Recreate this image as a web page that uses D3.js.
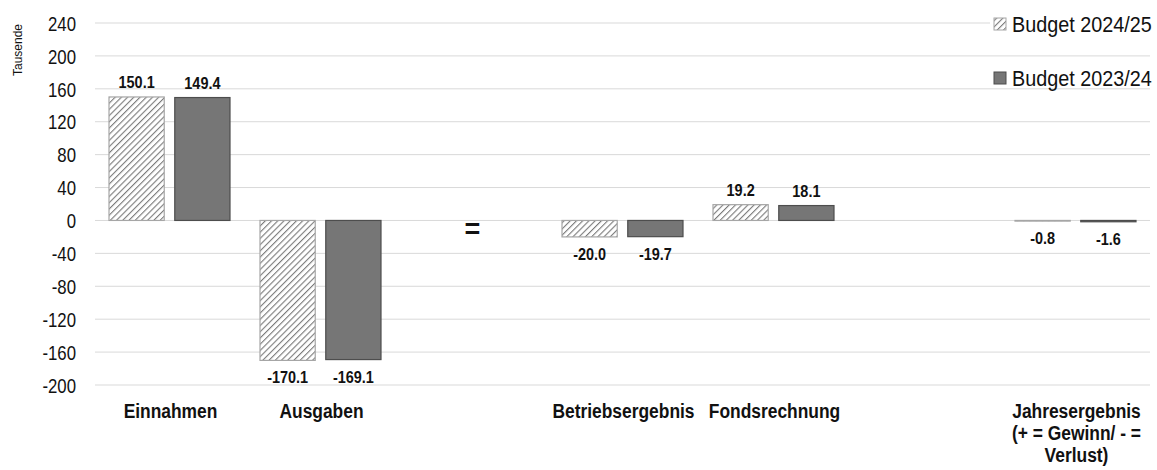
<!DOCTYPE html>
<html>
<head>
<meta charset="utf-8">
<script src="https://cdn.jsdelivr.net/npm/d3@7"></script>
<style>
  body { margin: 0; background: #fff; }
  text { font-family: "Liberation Sans", Arial, sans-serif; fill: #111; }
</style>
</head>
<body>
<div id="chart"></div>
<script>
const width = 1157;
const height = 470;

const categories = ["Einnahmen", "Ausgaben", "=", "Betriebsergebnis", "Fondsrechnung", "", "Jahresergebnis"];
const seriesNames = ["Budget 2024/25", "Budget 2023/24"];
const budget2425 = [150.1, -170.1, null, -20.0, 19.2, null, -0.8];
const budget2324 = [149.4, -169.1, null, -19.7, 18.1, null, -1.6];
const yTicks = [240, 200, 160, 120, 80, 40, 0, -40, -80, -120, -160, -200];
const xLabelLines = {
  "Jahresergebnis": ["Jahresergebnis", "(+ = Gewinn/ - =", "Verlust)"]
};

// narrow look: Liberation Sans squeezed horizontally
const narrow = 0.84;

const svg = d3.select("#chart")
  .append("svg")
  .attr("width", width)
  .attr("height", height);

const defs = svg.append("defs");
defs.append("pattern")
  .attr("id", "hatch")
  .attr("patternUnits", "userSpaceOnUse")
  .attr("width", 4.4)
  .attr("height", 4.4)
  .attr("patternTransform", "rotate(45)")
  .call(p => {
    p.append("rect").attr("width", 4.4).attr("height", 4.4).attr("fill", "#fff");
    p.append("line").attr("x1", 0).attr("y1", 0).attr("x2", 0).attr("y2", 4.4)
      .attr("stroke", "#7a7a7a").attr("stroke-width", 2.2);
  });

const x = d3.scaleBand()
  .domain(categories.map((d, i) => i))
  .range([95, 1152]);

const xSub = d3.scaleBand()
  .domain(seriesNames)
  .range([14, 135])
  .paddingInner(0.16);

const y = d3.scaleLinear()
  .domain([-200, 240])
  .range([385, 23]);

function label(g, px, py, str, size, opts = {}) {
  const t = g.append("g")
    .attr("transform", `translate(${px},${py})`)
    .append("text")
    .attr("transform", `scale(${opts.sx || narrow},1)`)
    .attr("text-anchor", opts.anchor || "middle")
    .attr("font-size", size)
    .attr("font-weight", opts.bold ? "bold" : null)
    .text(str);
  return t;
}

// grid
svg.append("g")
  .selectAll("line")
  .data(yTicks)
  .join("line")
  .attr("x1", 95)
  .attr("x2", 1150)
  .attr("y1", d => y(d))
  .attr("y2", d => y(d))
  .attr("stroke", "#d9d9d9")
  .attr("stroke-width", 1);

// y axis
const yAxis = svg.append("g")
  .attr("transform", "translate(76,0)")
  .call(d3.axisLeft(y).tickValues(yTicks).tickFormat(d => String(d)).tickSize(0).tickPadding(0));
yAxis.select(".domain").remove();
yAxis.selectAll("text")
  .attr("font-size", 20)
  .attr("dy", "0.36em")
  .attr("transform", `scale(${narrow},1)`)
  .style("font-family", "'Liberation Sans', Arial, sans-serif")
  .attr("fill", "#111");

svg.append("text")
  .attr("transform", "translate(22,50) rotate(-90)")
  .attr("text-anchor", "middle")
  .attr("font-size", 12)
  .text("Tausende");

const series = [
  { name: seriesNames[0], values: budget2425, fill: "url(#hatch)", stroke: "#a6a6a6" },
  { name: seriesNames[1], values: budget2324, fill: "#767676", stroke: "#4d4d4d" }
];

const bars = [];
series.forEach(s => {
  s.values.forEach((v, i) => {
    if (v !== null) bars.push({ i, v, s });
  });
});

svg.append("g")
  .selectAll("rect")
  .data(bars)
  .join("rect")
  .attr("x", d => x(d.i) + xSub(d.s.name))
  .attr("width", xSub.bandwidth())
  .attr("y", d => y(Math.max(0, d.v)))
  .attr("height", d => Math.abs(y(d.v) - y(0)))
  .attr("fill", d => d.s.fill)
  .attr("stroke", d => d.s.stroke)
  .attr("stroke-width", 1.2);

// value labels
const valG = svg.append("g");
bars.forEach(d => {
  const cx = x(d.i) + xSub(d.s.name) + xSub.bandwidth() / 2;
  const cy = d.v >= 0 ? y(d.v) - 9 : y(d.v) + 23;
  label(valG, cx, cy, d.v.toFixed(1), 17, { bold: true, sx: 0.85 });
});

// equals sign in the gap slot
svg.append("text")
  .attr("x", x(2) + x.bandwidth() / 2)
  .attr("y", y(0) + 18)
  .attr("text-anchor", "middle")
  .attr("font-size", 27)
  .attr("font-weight", "bold")
  .text("=");

// category labels
const catG = svg.append("g");
categories.forEach((c, i) => {
  if (!c || c === "=") return;
  const lines = xLabelLines[c] || [c];
  lines.forEach((t, k) => {
    label(catG, x(i) + x.bandwidth() / 2, 418 + k * 22, t, 20, { bold: true, sx: 0.87 });
  });
});

// legend
const legend = svg.append("g").attr("transform", "translate(990,0)");
legend.append("rect")
  .attr("x", 0).attr("y", 8).attr("width", 167).attr("height", 36)
  .attr("fill", "#fff");
const legendItems = legend.selectAll("g.item")
  .data(series)
  .join("g")
  .attr("class", "item")
  .attr("transform", (d, i) => `translate(0,${24 + i * 54})`);
legendItems.append("rect")
  .attr("x", 4).attr("y", -6).attr("width", 12).attr("height", 12)
  .attr("fill", d => d.fill)
  .attr("stroke", d => d.stroke)
  .attr("stroke-width", 1);
legendItems.each(function(d) {
  label(d3.select(this), 22, 8, d.name, 22, { anchor: "start", sx: 0.9 });
});
</script>
</body>
</html>
